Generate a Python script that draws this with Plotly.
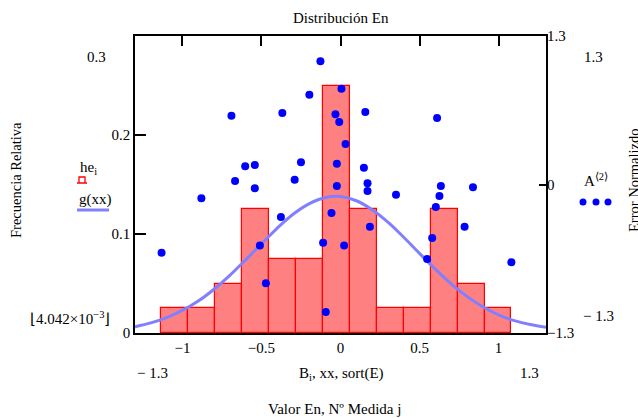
import plotly.graph_objects as go

# ---------------- data ----------------
bin_edges = [-1.133, -0.963, -0.792, -0.622, -0.452, -0.281, -0.111,
             0.059, 0.230, 0.400, 0.570, 0.741, 0.911, 1.081]
he_i = [0.025, 0.025, 0.05, 0.125, 0.075, 0.075, 0.25,
        0.125, 0.025, 0.025, 0.125, 0.05, 0.025]

xx = [-1.3, -1.2, -1.1, -1.0, -0.9, -0.8, -0.7, -0.6, -0.5, -0.4, -0.3, -0.2, -0.1,
      0.0, 0.1, 0.2, 0.3, 0.4, 0.5, 0.6, 0.7, 0.8, 0.9, 1.0, 1.1, 1.2, 1.3]
g_xx = [0.0064, 0.0102, 0.0156, 0.0228, 0.0322, 0.0442, 0.0582, 0.0739, 0.0900,
        0.1060, 0.1200, 0.1305, 0.1367, 0.1378, 0.1336, 0.1246, 0.1120, 0.0967,
        0.0804, 0.0645, 0.0497, 0.0370, 0.0265, 0.0183, 0.0125, 0.0085, 0.0058]

sort_E = [-1.132, -0.880, -0.690, -0.667, -0.603, -0.542, -0.542, -0.510, -0.472, -0.377,
          -0.368, -0.290, -0.250, -0.197, -0.127, -0.110, -0.093, -0.057, -0.032, -0.023,
          -0.023, -0.008, 0.006, 0.023, 0.032, 0.148, 0.157, 0.171, 0.171, 0.186,
          0.351, 0.548, 0.580, 0.603, 0.611, 0.626, 0.635, 0.785, 0.838, 1.081]
A2 = [-0.597, -0.121, 0.602, 0.031, 0.159, 0.171, -0.033, -0.533, -0.865, -0.285,
      0.626, 0.042, 0.194, 0.786, 1.079, -0.510, -1.116, -0.250, 0.615, 0.182,
      -0.013, 0.547, 0.839, -0.533, 0.355, 0.147, 0.635, 0.010, -0.057, -0.369,
      -0.089, -0.652, -0.468, -0.197, 0.582, -0.101, -0.013, -0.369, -0.025, -0.681]

x_ticks = [-1, -0.5, 0, 0.5, 1]
x_ticktext = ["\u22121", "\u22120.5", "0", "0.5", "1"]
yl_ticks = [0, 0.1, 0.2]
yl_ticktext = ["0", "0.1", "0.2"]
yr_ticks = [-1.3, 0, 1.3]
yr_ticktext = ["\u22121.3", "0", "1.3"]

# ---------------- layout geometry (page pixels) ----------------
W, H = 638, 418
L, R, T, B = 135, 546, 36, 333
FONT = "Liberation Serif"
FS = 15


def px(x):
    return (x - L) / (R - L)


def py(y):
    return (B - y) / (B - T)


centers = [(bin_edges[i] + bin_edges[i + 1]) / 2 for i in range(len(he_i))]
widths = [bin_edges[i + 1] - bin_edges[i] for i in range(len(he_i))]

fig = go.Figure()
fig.add_trace(go.Bar(x=centers, y=he_i, width=widths,
                     marker=dict(color="#FF8080", line=dict(color="#FF0000", width=1.2)),
                     showlegend=False, hoverinfo="skip"))
fig.add_trace(go.Scatter(x=xx, y=g_xx, mode="lines",
                         line=dict(color="#8080FF", width=3, shape="spline"),
                         showlegend=False, hoverinfo="skip"))
fig.add_trace(go.Scatter(x=sort_E, y=A2, mode="markers", yaxis="y2",
                         marker=dict(color="#0000FF", size=8),
                         showlegend=False, hoverinfo="skip"))
fig.add_trace(go.Scatter(x=[], y=[], xaxis="x2", showlegend=False, hoverinfo="skip"))

axis_font = dict(family=FONT, size=FS, color="black")

fig.update_layout(
    width=W, height=H,
    margin=dict(l=L, r=W - R, t=T, b=H - B, pad=0),
    paper_bgcolor="white", plot_bgcolor="white",
    font=dict(family=FONT, size=FS, color="black"),
    bargap=0,
    xaxis=dict(range=[-1.3, 1.3], showgrid=False, zeroline=False,
               showline=True, mirror=True, linecolor="black", linewidth=1.5,
               tickvals=x_ticks, ticktext=x_ticktext, ticks="",
               tickfont=axis_font),
    xaxis2=dict(range=[-1.3, 1.3], overlaying="x", side="top", anchor="y",
                showgrid=False, zeroline=False, showline=False,
                tickvals=x_ticks, showticklabels=False,
                ticks="inside", ticklen=10, tickwidth=1.5, tickcolor="black"),
    yaxis=dict(range=[0, 0.3], showgrid=False, zeroline=False,
               showline=True, mirror=True, linecolor="black", linewidth=1.5,
               tickvals=yl_ticks, ticktext=yl_ticktext,
               ticks="inside", ticklen=11, tickwidth=1.5, tickcolor="black",
               tickfont=axis_font),
    yaxis2=dict(range=[-1.3, 1.3], overlaying="y", side="right", anchor="x",
                showgrid=False, zeroline=False, showline=False,
                tickvals=yr_ticks, ticktext=yr_ticktext,
                ticks="inside", ticklen=7, tickwidth=1.5, tickcolor="black",
                tickfont=axis_font),
)

ann = []


def add_text(x, y, text, size=FS, angle=0):
    ann.append(dict(x=px(x), y=py(y), xref="paper", yref="paper", text=text,
                    showarrow=False, xanchor="center", yanchor="middle",
                    textangle=angle, font=dict(family=FONT, size=size, color="black")))


add_text(341, 18, "Distribución En")
add_text(96, 57, "0.3")
add_text(70, 318, "\u230a4.042\u00d710<sup>\u22123</sup>\u230b")
add_text(152, 373, "\u2212 1.3")
add_text(529, 373, "1.3")
add_text(341, 374, "B<sub>i</sub>, xx, sort(E)")
add_text(334, 409, "Valor En, Nº Medida j")
add_text(593, 57, "1.3")
add_text(598, 316, "\u2212 1.3")
add_text(16, 180, "Frecuencia Relativa", 14.5, -90)
add_text(634, 181, "Error Normalizdo", 14.5, -90)
add_text(88, 168, "he<sub>i</sub>")
add_text(95, 199, "g(xx)")
add_text(596, 180, "A<sup>\u27e82\u27e9</sup>")
fig.update_layout(annotations=ann)

shapes = []
# legend symbol for histogram
shapes.append(dict(type="path", xref="paper", yref="paper",
                   path=f"M {px(77)},{py(183)} L {px(87)},{py(183)} "
                        f"M {px(79)},{py(183)} L {px(79)},{py(177)} L {px(85)},{py(177)} L {px(85)},{py(183)}",
                   line=dict(color="#FF0000", width=1.3)))
# legend line for g(xx)
shapes.append(dict(type="line", xref="paper", yref="paper",
                   x0=px(77), x1=px(109), y0=py(210), y1=py(210),
                   line=dict(color="#8080FF", width=3)))
# legend dots for A<2>
for cx in (583, 596, 608):
    shapes.append(dict(type="circle", xref="paper", yref="paper",
                       x0=px(cx - 3.5), x1=px(cx + 3.5), y0=py(202 + 3.5), y1=py(202 - 3.5),
                       fillcolor="#0000FF", line=dict(color="#0000FF", width=0)))
fig.update_layout(shapes=shapes)

fig.write_html("out.html", config={"displayModeBar": False},
               post_script="document.body.style.margin='0';document.body.style.overflow='hidden';")
